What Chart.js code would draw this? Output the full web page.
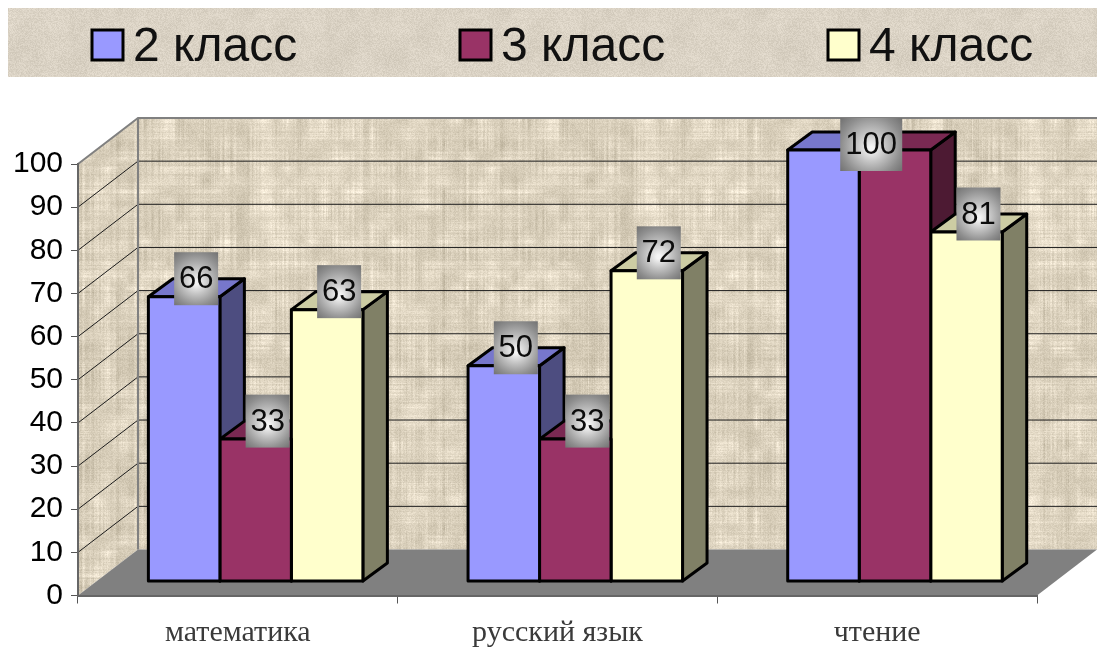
<!DOCTYPE html>
<html><head><meta charset="utf-8">
<style>html,body{margin:0;padding:0;background:#fff}canvas{display:block}</style>
<script src="https://cdn.jsdelivr.net/npm/chart.js@4"></script>
</head><body><canvas id="c" width="1097" height="648"></canvas>
<script>
const categories = ['математика', 'русский язык', 'чтение'];
const seriesNames = ['2 класс', '3 класс', '4 класс'];
const class2 = [66, 50, 100];
const class3 = [33, 33, 100];
const class4 = [63, 72, 81];
const frontColors = ['#9999FF', '#993366', '#FFFFCC'];
const topColors = ['#7777CC', '#7A2952', '#CCCCA3'];
const sideColors = ['#4D4D80', '#4D1A33', '#808066'];

const WALL = {dx: 60, dy: -46};
const BAR = {shiftX: 17.8, shiftY: -14, dx: 24.5, dy: -18};
const LEGEND_X = [92, 460, 828];

function makeTexture(size, base, rowAmp, colAmp, grainAmp, blotchAmp, seed) {
  const cv = document.createElement('canvas');
  cv.width = cv.height = size;
  const g = cv.getContext('2d');
  const img = g.createImageData(size, size);
  let s = seed;
  const rnd = () => { s = (s * 1664525 + 1013904223) >>> 0; return s / 4294967296 - 0.5; };
  const rows = [], cols = [];
  let ra = 0, ca = 0;
  for (let i = 0; i < size; i++) {
    ra = ra * 0.45 + rnd(); ca = ca * 0.45 + rnd();
    rows.push(ra); cols.push(ca);
  }
  const cell = 12, n = Math.ceil(size / cell);
  const blotch = [];
  for (let i = 0; i < n * n; i++) blotch.push(rnd());
  const bl = (x, y) => {
    const fx = x / cell, fy = y / cell, ix = Math.floor(fx), iy = Math.floor(fy), tx = fx - ix, ty = fy - iy;
    const at = (a, b) => blotch[(b % n) * n + (a % n)];
    return (at(ix, iy) * (1 - tx) + at(ix + 1, iy) * tx) * (1 - ty) + (at(ix, iy + 1) * (1 - tx) + at(ix + 1, iy + 1) * tx) * ty;
  };
  for (let y = 0; y < size; y++) for (let x = 0; x < size; x++) {
    const v = rows[y] * rowAmp * (0.5 + bl(x, y)) + cols[x] * colAmp * (0.5 - bl(y, x)) + rnd() * grainAmp + bl(x, y) * blotchAmp;
    const i = (y * size + x) * 4;
    img.data[i] = base[0] + v; img.data[i + 1] = base[1] + v; img.data[i + 2] = base[2] + v * 1.05; img.data[i + 3] = 255;
  }
  g.putImageData(img, 0, 0);
  const out = document.createElement('canvas');
  out.width = out.height = size;
  const og = out.getContext('2d');
  og.filter = 'blur(0.7px)';
  og.drawImage(cv, 0, 0);
  return out;
}
let wallTex, legendTex;

const scene = {
  id: 'scene',
  beforeDraw(chart) {
    const {ctx} = chart;
    const x = chart.scales.x, y = chart.scales.y;
    const l = x.left, r = x.right, y0 = y.getPixelForValue(0), y100 = y.getPixelForValue(100);
    const bx = l + WALL.dx, br = r + WALL.dx;
    wallTex = wallTex || makeTexture(384, [219, 209, 189], 26, 30, 18, 22, 12345);
    legendTex = legendTex || makeTexture(256, [218, 210, 196], 3, 3, 18, 9, 777);
    ctx.save();
    ctx.fillStyle = ctx.createPattern(legendTex, 'repeat');
    ctx.fillRect(8, 8, chart.width - 8, 69);
    ctx.fillStyle = ctx.createPattern(wallTex, 'repeat');
    ctx.fillRect(bx, y100 + WALL.dy, br - bx, y0 - y100);
    ctx.beginPath();
    ctx.moveTo(l, y100); ctx.lineTo(bx, y100 + WALL.dy); ctx.lineTo(bx, y0 + WALL.dy); ctx.lineTo(l, y0);
    ctx.closePath(); ctx.fill();
    ctx.fillStyle = '#808080';
    ctx.beginPath();
    ctx.moveTo(l, y0); ctx.lineTo(r, y0); ctx.lineTo(br, y0 + WALL.dy); ctx.lineTo(bx, y0 + WALL.dy);
    ctx.closePath(); ctx.fill();
    ctx.strokeStyle = '#1c1c1c'; ctx.lineWidth = 1;
    y.ticks.forEach(t => {
      if (t.value === 0 || t.value === 100) return;
      const p = y.getPixelForValue(t.value);
      ctx.beginPath();
      ctx.moveTo(l, p); ctx.lineTo(bx, p + WALL.dy); ctx.lineTo(br, p + WALL.dy);
      ctx.stroke();
    });
    ctx.strokeStyle = '#808080'; ctx.lineWidth = 2;
    ctx.beginPath();
    ctx.moveTo(l, y100); ctx.lineTo(bx, y100 + WALL.dy); ctx.lineTo(br, y100 + WALL.dy);
    ctx.moveTo(bx, y100 + WALL.dy); ctx.lineTo(bx, y0 + WALL.dy);
    ctx.stroke();
    ctx.font = '48px "Liberation Sans"';
    ctx.textBaseline = 'alphabetic'; ctx.textAlign = 'left';
    chart.data.datasets.forEach((d, i) => {
      const sx = LEGEND_X[i];
      ctx.fillStyle = d.backgroundColor;
      ctx.fillRect(sx, 30, 31, 30);
      ctx.strokeStyle = '#000'; ctx.lineWidth = 3;
      ctx.strokeRect(sx, 30, 31, 30);
      ctx.fillStyle = '#111';
      ctx.fillText(d.label, sx + 41, 61);
    });
    ctx.restore();
  },
  beforeDatasetsDraw(chart) {
    const {ctx} = chart;
    ctx.save();
    ctx.translate(BAR.shiftX, BAR.shiftY);
    ctx.lineWidth = 3; ctx.strokeStyle = '#000'; ctx.lineJoin = 'round';
    chart.data.datasets.forEach((d, i) => {
      chart.getDatasetMeta(i).data.forEach(b => {
        const L = b.x - b.width / 2, R = b.x + b.width / 2, T = b.y, B = b.base;
        ctx.fillStyle = sideColors[i];
        ctx.beginPath();
        ctx.moveTo(R, T); ctx.lineTo(R + BAR.dx, T + BAR.dy); ctx.lineTo(R + BAR.dx, B + BAR.dy); ctx.lineTo(R, B);
        ctx.closePath(); ctx.fill(); ctx.stroke();
        ctx.fillStyle = topColors[i];
        ctx.beginPath();
        ctx.moveTo(L, T); ctx.lineTo(L + BAR.dx, T + BAR.dy); ctx.lineTo(R + BAR.dx, T + BAR.dy); ctx.lineTo(R, T);
        ctx.closePath(); ctx.fill(); ctx.stroke();
      });
    });
    ctx.restore();
  },
  beforeDatasetDraw(chart) {
    chart.ctx.save();
    chart.ctx.translate(BAR.shiftX, BAR.shiftY);
  },
  afterDatasetDraw(chart, args) {
    const {ctx} = chart;
    ctx.lineWidth = 3; ctx.strokeStyle = '#000'; ctx.lineJoin = 'round';
    args.meta.data.forEach(b => {
      ctx.strokeRect(b.x - b.width / 2, b.y, b.width, b.base - b.y);
    });
    ctx.restore();
  },
  afterDatasetsDraw(chart) {
    const {ctx} = chart;
    const n = chart.data.datasets.length;
    const wallTop = chart.scales.y.getPixelForValue(100) + WALL.dy;
    ctx.save();
    ctx.translate(BAR.shiftX, BAR.shiftY);
    categories.forEach((c, ci) => {
      let i = 0;
      while (i < n) {
        let j = i;
        const v = chart.data.datasets[i].data[ci];
        while (j + 1 < n && chart.data.datasets[j + 1].data[ci] === v) j++;
        const a = chart.getDatasetMeta(i).data[ci], z = chart.getDatasetMeta(j).data[ci];
        const text = String(v);
        const w = text.length > 2 ? 62 : 44, h = 53;
        const cx = (a.x + z.x) / 2 + 12;
        const cy = Math.max(a.y - 18, wallTop - BAR.shiftY + h / 2);
        const g = ctx.createRadialGradient(cx, cy + 4, 2, cx, cy, Math.max(w, h) * 0.68);
        g.addColorStop(0, '#f4f4f4'); g.addColorStop(0.3, '#c6c6c6'); g.addColorStop(0.7, '#8e8e8e'); g.addColorStop(1, '#6c6c6c');
        ctx.fillStyle = g;
        ctx.fillRect(cx - w / 2, cy - h / 2, w, h);
        ctx.fillStyle = '#0c0c0c';
        ctx.font = '31px "Liberation Sans"';
        ctx.textAlign = 'center'; ctx.textBaseline = 'middle';
        ctx.fillText(text, cx, cy + 1);
        i = j + 1;
      }
    });
    ctx.restore();
  }
};

new Chart(document.getElementById('c'), {
  type: 'bar',
  data: {
    labels: categories,
    datasets: [
      {label: seriesNames[0], data: class2, backgroundColor: frontColors[0], clip: false},
      {label: seriesNames[1], data: class3, backgroundColor: frontColors[1], clip: false},
      {label: seriesNames[2], data: class4, backgroundColor: frontColors[2], clip: false}
    ]
  },
  options: {
    responsive: false,
    animation: false,
    layout: {padding: {left: 0, right: 60, top: 164, bottom: 0}},
    categoryPercentage: 0.671,
    barPercentage: 1,
    plugins: {legend: {display: false}, tooltip: {enabled: false}},
    scales: {
      x: {
        offset: true,
        afterFit(s) { s.height = 52.5; },
        grid: {drawOnChartArea: false, drawTicks: true, tickLength: 8, color: '#555', offset: true},
        border: {display: true, color: '#666', width: 2},
        ticks: {font: {family: '"Liberation Serif"', size: 30}, color: '#3a3a3a', maxRotation: 0, padding: 12}
      },
      y: {
        min: 0, max: 100,
        afterFit(s) { s.width = 78; },
        grid: {drawOnChartArea: false, drawTicks: true, tickLength: 7, color: '#555'},
        border: {display: true, color: '#666', width: 2},
        ticks: {stepSize: 10, font: {family: '"Liberation Sans"', size: 30}, color: '#000', padding: 8}
      }
    }
  },
  plugins: [scene]
});
</script></body></html>
